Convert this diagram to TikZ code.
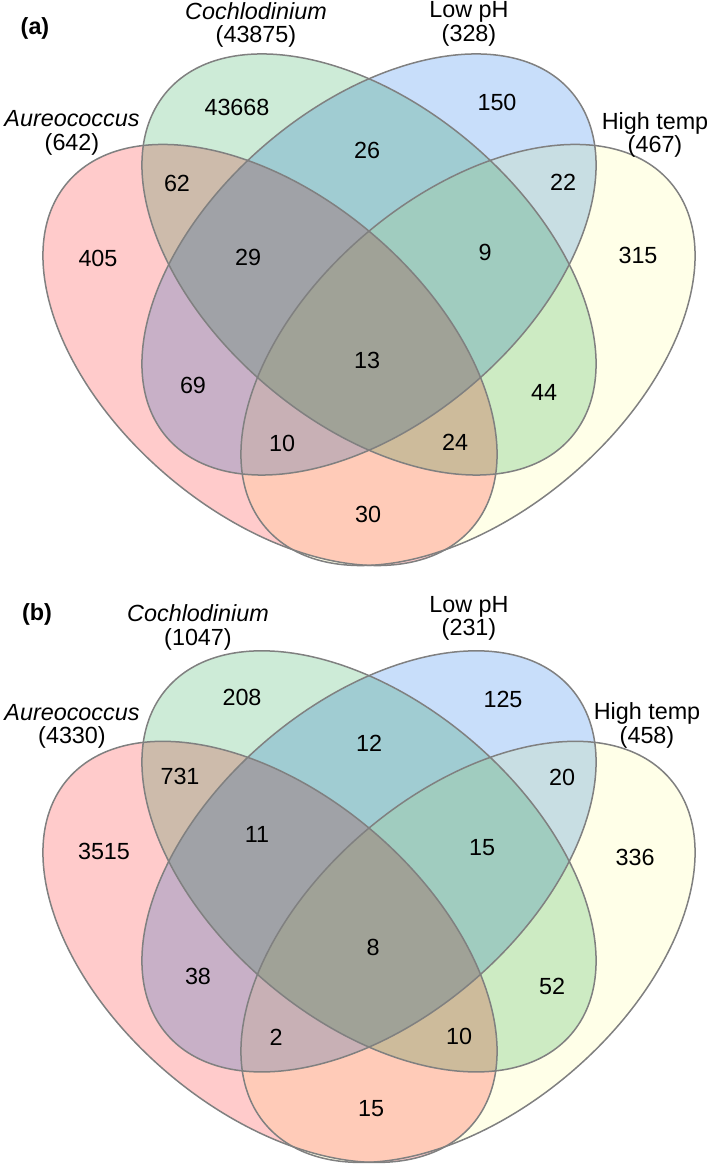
\documentclass[tikz,border=0pt]{standalone}
\usepackage{fontspec}
\setmainfont{Liberation Sans}
\usetikzlibrary{positioning}

\definecolor{vred}{RGB}{255,203,203}
\definecolor{vgreen}{RGB}{205,235,215}
\definecolor{vblue}{RGB}{200,222,250}
\definecolor{vyellow}{RGB}{255,255,232}
\definecolor{vline}{RGB}{128,128,128}

\tikzset{
  setline/.style={draw=vline, line width=0.03cm},
  setlabel/.style={align=center, inner sep=0pt, font=\fontsize{13.3}{13.6}\selectfont},
  count/.style={inner sep=0pt, font=\fontsize{13.3}{16}\selectfont},
  panel/.style={inner sep=0pt, font=\fontsize{13.3}{16}\selectfont\bfseries},
}

% the four ellipses of one panel
\newcommand{\fourellipses}{%
  \begin{scope}[blend group=multiply]
    \fill[vred, rotate around={-40.45:(270,814)}] (270,814) ellipse [x radius=266, y radius=158.5];
    \fill[vgreen, rotate around={-40.45:(369,904.5)}] (369,904.5) ellipse [x radius=266, y radius=158.5];
    \fill[vblue, rotate around={40.45:(369,904.5)}] (369,904.5) ellipse [x radius=266, y radius=158.5];
    \fill[vyellow, rotate around={40.45:(468,814)}] (468,814) ellipse [x radius=266, y radius=158.5];
  \end{scope}
  \draw[setline, rotate around={-40.45:(270,814)}] (270,814) ellipse [x radius=266, y radius=158.5];
  \draw[setline, rotate around={-40.45:(369,904.5)}] (369,904.5) ellipse [x radius=266, y radius=158.5];
  \draw[setline, rotate around={40.45:(369,904.5)}] (369,904.5) ellipse [x radius=266, y radius=158.5];
  \draw[setline, rotate around={40.45:(468,814)}] (468,814) ellipse [x radius=266, y radius=158.5];
}

\begin{document}
\begin{tikzpicture}[x=0.02cm, y=0.02cm]
\useasboundingbox (0,0) rectangle (709,1169);
% Panel (a)
\fourellipses
\node[panel] (a-tag) at (35,1141) {(a)};
\node[setlabel] (a-aur) at (72,1036.5) {\textit{Aureococcus}\\(642)};
\node[setlabel] (a-coc) at (256,1144) {\textit{Cochlodinium}\\(43875)};
\node[setlabel] (a-low) at (469,1145) {Low pH\\(328)};
\node[setlabel] (a-hig) at (655,1034) {High temp\\(467)};
\node[count] (a-43668) at (237,1062) {43668};
\node[count] (a-62) at (177,986) {62};
\node[count] (a-405) at (98,911) {405};
\node[count] (a-29) at (248,912) {29};
\node[count] (a-26) at (367,1019) {26};
\node[count] (a-150) at (497,1067) {150};
\node[count] (a-22) at (563,987) {22};
\node[count] (a-9) at (485,917) {9};
\node[count] (a-315) at (638,914) {315};
\node[count] (a-69) at (193,784) {69};
\node[count] (a-10) at (282,726) {10};
\node[count] (a-13) at (367,809) {13};
\node[count] (a-44) at (544,777) {44};
\node[count] (a-24) at (455,727) {24};
\node[count] (a-30) at (368,655) {30};
% Panel (b)
\begin{scope}[yshift=-11.94cm]
\fourellipses
\node[panel] (b-tag) at (37,1151) {(b)};
\node[setlabel] (b-aur) at (72,1039.5) {\textit{Aureococcus}\\(4330)};
\node[setlabel] (b-coc) at (198,1138.5) {\textit{Cochlodinium}\\(1047)};
\node[setlabel] (b-low) at (469,1147.5) {Low pH\\(231)};
\node[setlabel] (b-hig) at (647,1040.5) {High temp\\(458)};
\node[count] (b-208) at (242,1068) {208};
\node[count] (b-731) at (180,989) {731};
\node[count] (b-3515) at (104,914) {3515};
\node[count] (b-11) at (257,931) {11};
\node[count] (b-12) at (369,1023) {12};
\node[count] (b-125) at (503,1066) {125};
\node[count] (b-20) at (562,988) {20};
\node[count] (b-15a) at (482,918) {15};
\node[count] (b-336) at (635,908) {336};
\node[count] (b-38) at (198,789) {38};
\node[count] (b-2) at (276,729) {2};
\node[count] (b-8) at (373,818) {8};
\node[count] (b-52) at (552,779) {52};
\node[count] (b-10) at (459,729) {10};
\node[count] (b-15b) at (371,657) {15};
\end{scope}
\end{tikzpicture}
\end{document}
